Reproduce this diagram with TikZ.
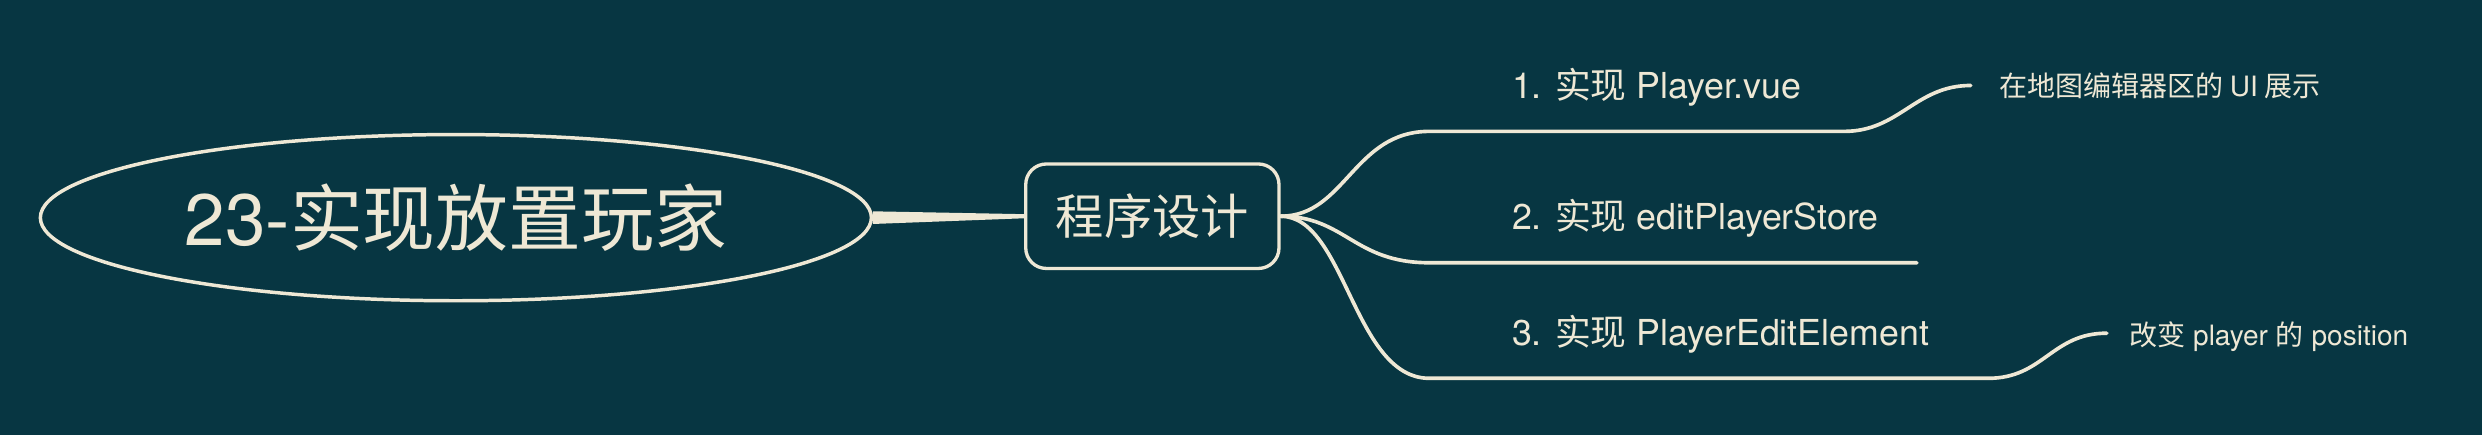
\documentclass[tikz,border=0pt]{standalone}
\usepackage{fontspec}
\setmainfont{TeX Gyre Heros}
\newfontfamily\cjk{Noto Sans CJK SC}
\usetikzlibrary{shapes.geometric}
\definecolor{bg}{HTML}{073642}
\definecolor{cream}{HTML}{EEE8D5}
\tikzset{
  rootnode/.style={ellipse,draw=cream,line width=2.2pt,minimum width=525pt,minimum height=105pt,inner sep=0pt,text=cream,font=\fontsize{46}{50}\selectfont},
  mainnode/.style={rectangle,rounded corners=13pt,draw=cream,line width=2.1pt,minimum width=160pt,minimum height=66pt,inner sep=0pt,text=cream,font=\fontsize{30.5}{34}\selectfont},
  lbl/.style={anchor=base west,inner sep=0pt,text=cream,font=\fontsize{22.6}{26}\selectfont},
  sublbl/.style={anchor=base west,inner sep=0pt,text=cream,font=\fontsize{17.7}{20}\selectfont},
  branch/.style={draw=cream,line width=2.3pt,line cap=round},
}
\begin{document}
\begin{tikzpicture}[x=1pt,y=-1pt]
\useasboundingbox[fill=bg] (0,0) rectangle (1568,275);
\node[rootnode] (root) at (288,137.5) {23-{\cjk 实现放置玩家}};
\node[mainnode] (prog) at (728,136.6) {\cjk 程序设计};
\fill[cream] ([yshift=4pt]root.east) -- ([yshift=1.3pt]prog.west) -- ([yshift=-1.3pt]prog.west) -- ([yshift=-4pt]root.east) -- cycle;
% labels
\node[lbl] (t1) at (955,62) {1. {\cjk 实现} Player.vue};
\node[lbl] (t2) at (955,145) {2. {\cjk 实现} editPlayerStore};
\node[lbl] (t3) at (955,218.5) {3. {\cjk 实现} PlayerEditElement};
\node[sublbl] (s1) at (1263,61) {\cjk 在地图编辑器区的 {\rmfamily UI} 展示};
\node[sublbl] (s3) at (1345,218) {{\cjk 改变} player {\cjk 的} position};
% line coordinates
\coordinate (a1) at (903,83);
\coordinate (b1) at (1165,83);
\coordinate (c1) at (1245,54);
\coordinate (a2) at (903,166);
\coordinate (b2) at (1211,166);
\coordinate (a3) at (903,239);
\coordinate (b3) at (1256,239);
\coordinate (c3) at (1331,210.5);
% branches
\draw[branch] (prog.east) .. controls (850,136.6) and (855,83) .. (a1) -- (b1) .. controls (1200,83) and (1210,54) .. (c1);
\draw[branch] (prog.east) .. controls (850,136.6) and (855,166) .. (a2) -- (b2);
\draw[branch] (prog.east) .. controls (850,136.6) and (855,239) .. (a3) -- (b3) .. controls (1291,239) and (1296,210.5) .. (c3);
\end{tikzpicture}
\end{document}
